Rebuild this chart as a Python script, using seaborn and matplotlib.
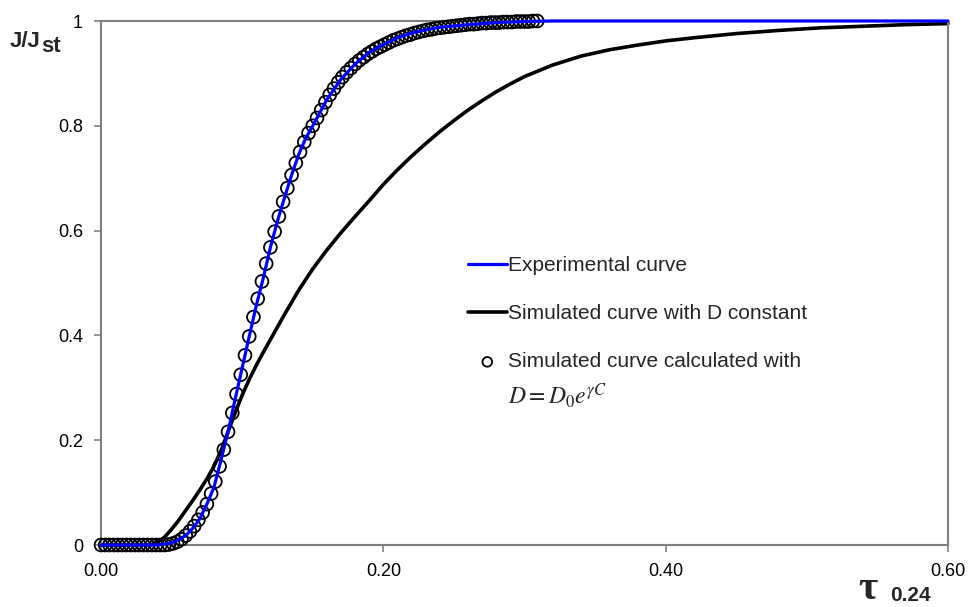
import matplotlib
matplotlib.use("Agg")
import matplotlib.pyplot as plt
import seaborn as sns

# experimental permeation curve (blue line)
exp_x = [0.0, 0.04, 0.05, 0.055, 0.06, 0.065, 0.07, 0.075, 0.08, 0.085, 0.09, 0.095,
         0.10, 0.105, 0.11, 0.115, 0.12, 0.125, 0.13, 0.135, 0.14, 0.145, 0.15, 0.16,
         0.17, 0.18, 0.19, 0.20, 0.21, 0.22, 0.23, 0.24, 0.26, 0.28, 0.30, 0.32, 0.35,
         0.40, 0.50, 0.60]
exp_y = [0.0, 0.0, 0.004, 0.010, 0.018, 0.032, 0.050, 0.078, 0.110, 0.162, 0.216, 0.278,
         0.338, 0.398, 0.457, 0.510, 0.568, 0.618, 0.663, 0.706, 0.745, 0.776, 0.800, 0.850,
         0.889, 0.918, 0.940, 0.955, 0.968, 0.977, 0.983, 0.988, 0.993, 0.997, 0.999, 1.0, 1.0,
         1.0, 1.0, 1.0]

# simulated curve with D constant (black line)
sim_x = [0.0, 0.035, 0.04, 0.045, 0.05, 0.055, 0.06, 0.065, 0.07, 0.075, 0.08, 0.085,
         0.09, 0.095, 0.10, 0.105, 0.11, 0.115, 0.12, 0.125, 0.13, 0.14, 0.15, 0.16, 0.17,
         0.18, 0.19, 0.20, 0.21, 0.22, 0.23, 0.24, 0.25, 0.26, 0.27, 0.28, 0.29, 0.30, 0.32,
         0.34, 0.36, 0.38, 0.40, 0.42, 0.45, 0.48, 0.51, 0.54, 0.57, 0.60]
sim_y = [0.0, 0.0, 0.005, 0.015, 0.030, 0.047, 0.066, 0.085, 0.105, 0.126, 0.150, 0.180,
         0.216, 0.252, 0.286, 0.316, 0.343, 0.368, 0.392, 0.416, 0.440, 0.486, 0.527, 0.563,
         0.596, 0.627, 0.657, 0.688, 0.716, 0.742, 0.766, 0.789, 0.810, 0.830, 0.848, 0.865,
         0.880, 0.894, 0.916, 0.933, 0.945, 0.954, 0.962, 0.968, 0.976, 0.982, 0.987, 0.990,
         0.993, 0.995]

# simulated curve with D = D0 exp(gamma C) (open circles)
circ_x = [0.000, 0.003, 0.006, 0.009, 0.012, 0.015, 0.018, 0.021, 0.024, 0.027, 0.030,
          0.033, 0.036, 0.039, 0.042, 0.045, 0.048, 0.051, 0.054, 0.057, 0.060, 0.063,
          0.066, 0.069, 0.072, 0.075, 0.078, 0.081, 0.084, 0.087, 0.090, 0.093, 0.096,
          0.099, 0.102, 0.105, 0.108, 0.111, 0.114, 0.117, 0.120, 0.123, 0.126, 0.129,
          0.132, 0.135, 0.138, 0.141, 0.144, 0.147, 0.150, 0.153, 0.156, 0.159, 0.162,
          0.165, 0.168, 0.171, 0.174, 0.177, 0.180, 0.183, 0.186, 0.189, 0.192, 0.195,
          0.198, 0.201, 0.204, 0.207, 0.210, 0.213, 0.216, 0.219, 0.222, 0.225, 0.228,
          0.231, 0.234, 0.237, 0.240, 0.243, 0.246, 0.249, 0.252, 0.255, 0.258, 0.261,
          0.264, 0.267, 0.270, 0.273, 0.276, 0.279, 0.282, 0.285, 0.288, 0.291, 0.294,
          0.297, 0.300, 0.303, 0.306, 0.309]
circ_y = [0, 0, 0, 0, 0, 0, 0, 0, 0, 0, 0,
          0, 0, 0, 0, 0, 0.001, 0.003, 0.006, 0.011, 0.018, 0.026,
          0.036, 0.048, 0.062, 0.078, 0.098, 0.121, 0.150, 0.182, 0.216, 0.252, 0.288,
          0.325, 0.362, 0.398, 0.435, 0.470, 0.503, 0.537, 0.568, 0.598, 0.627, 0.655,
          0.681, 0.706, 0.729, 0.750, 0.769, 0.786, 0.800, 0.815, 0.830, 0.845, 0.859,
          0.871, 0.883, 0.893, 0.902, 0.910, 0.918, 0.925, 0.931, 0.937, 0.942, 0.947,
          0.951, 0.955, 0.959, 0.963, 0.966, 0.969, 0.972, 0.974, 0.977, 0.979, 0.981,
          0.983, 0.984, 0.986, 0.987, 0.988, 0.989, 0.990, 0.991, 0.992, 0.993, 0.994,
          0.994, 0.995, 0.996, 0.996, 0.997, 0.997, 0.997, 0.998, 0.998, 0.998, 0.999,
          0.999, 0.999, 0.999, 1.000, 1.000]

x_ticks = [0.0, 0.2, 0.4, 0.6]
x_labels = ["0.00", "0.20", "0.40", "0.60"]
y_ticks = [0, 0.2, 0.4, 0.6, 0.8, 1]
y_labels = ["0", "0.2", "0.4", "0.6", "0.8", "1"]

sns.set_style("ticks")
plt.rcParams['font.family'] = ['Liberation Sans', 'DejaVu Sans']

fig = plt.figure(figsize=(9.68, 6.07), dpi=100)
ax = fig.add_axes([101/968, 62/607, 847/968, 524/607])

sns.lineplot(x=exp_x, y=exp_y, color="#0000ff", linewidth=2.3, ax=ax,
             label="Experimental curve", clip_on=False, zorder=4)
sns.lineplot(x=sim_x, y=sim_y, color="black", linewidth=2.6, ax=ax,
             label="Simulated curve with D constant", clip_on=False, zorder=2)
sns.scatterplot(x=circ_x, y=circ_y, marker="o", s=85, facecolor="none",
                edgecolor="black", linewidth=1.3, ax=ax, clip_on=False, zorder=3,
                label="Simulated curve calculated with")

ax.set_xlim(0, 0.6)
ax.set_ylim(0, 1)
ax.set_xticks(x_ticks)
ax.set_xticklabels(x_labels)
ax.set_yticks(y_ticks)
ax.set_yticklabels(y_labels)
ax.tick_params(axis="both", direction="out", length=5, width=1.2, color="#808080",
               labelsize=13, pad=8, labelcolor="black")
for s in ax.spines.values():
    s.set_color("#808080")
    s.set_linewidth(1.5)
    s.set_visible(True)
ax.set_xlabel("")
ax.set_ylabel("")

ax.legend(loc="upper left", bbox_to_anchor=((468-101)/847, (545-256)/524),
          frameon=False, fontsize=15, handlelength=1.85, handletextpad=0.05,
          labelspacing=1.4, borderpad=0, borderaxespad=0, markerscale=0.75)
ax.text((508-101)/847, (545-396)/524, r"$D = D_0e^{\gamma C}$", transform=ax.transAxes,
        fontsize=17, va="center", ha="left", math_fontfamily="stix")

# axis titles
fig.text(10/968, (607-47)/607, "J/J", fontsize=16, fontweight="bold", va="baseline")
fig.text(41/968, (607-52)/607, "st", fontsize=16, fontweight="bold", va="baseline")
fig.text(858/968, (607-599)/607, "\u03c4", fontsize=30, fontweight="bold",
         family="Liberation Serif", va="baseline")
fig.text(890/968, (607-601)/607, "0.24", fontsize=15, fontweight="bold", va="baseline")

plt.savefig("out.png", dpi=100)
